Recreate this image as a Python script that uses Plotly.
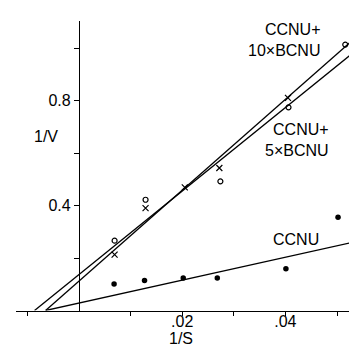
import plotly.graph_objects as go

# ---- data (Lineweaver-Burk plot) ----
ccnu_x = [0.0068, 0.0127, 0.0202, 0.0268, 0.0401, 0.0502]
ccnu_y = [0.101, 0.114, 0.124, 0.124, 0.159, 0.355]

bcnu10_x = [0.0069, 0.0129, 0.0274, 0.0406, 0.0516]   # open circles
bcnu10_y = [0.266, 0.422, 0.492, 0.774, 1.013]

bcnu5_x = [0.0069, 0.0129, 0.0205, 0.0272, 0.0405]    # crosses
bcnu5_y = [0.213, 0.390, 0.469, 0.543, 0.810]

# fitted straight lines: slope, intercept (1/V at 1/S = 0)
fit_names = ["CCNU", "5xBCNU", "10xBCNU"]
fit_slopes = [4.37, 15.9, 17.3]
fit_intercepts = [0.0282, 0.137, 0.112]
fit_x_end = 0.0552

x_tickvals = [-0.01, 0.01, 0.02, 0.03, 0.04, 0.05]
x_labelvals = [0.02, 0.04]
x_labeltext = [".02", ".04"]
y_tickvals = [0.2, 0.4, 0.6, 0.8, 1.0]
y_ticktext = ["", "0.4", "", "0.8", ""]

W, H = 357, 346
FONT = "Liberation Sans, Arial, sans-serif"

fig = go.Figure()

for s, b in zip(fit_slopes, fit_intercepts):
    x0 = -b / s
    fig.add_trace(go.Scatter(
        x=[x0, fit_x_end], y=[0, b + s * fit_x_end], mode="lines",
        line=dict(color="black", width=1.3), showlegend=False, hoverinfo="skip"))

fig.add_trace(go.Scatter(x=ccnu_x, y=ccnu_y, mode="markers",
                         marker=dict(symbol="circle", size=5.5, color="black"),
                         showlegend=False))
fig.add_trace(go.Scatter(x=bcnu10_x, y=bcnu10_y, mode="markers",
                         marker=dict(symbol="circle-open", size=5, color="black",
                                     line=dict(width=1.2, color="black")),
                         showlegend=False))
fig.add_trace(go.Scatter(x=bcnu5_x, y=bcnu5_y, mode="markers",
                         marker=dict(symbol="x-thin-open", size=6, color="black",
                                     line=dict(width=1.2, color="black")),
                         showlegend=False))
# empty trace so that the label axis is drawn
fig.add_trace(go.Scatter(x=[], y=[], xaxis="x2", yaxis="y", mode="markers",
                         showlegend=False, hoverinfo="skip"))

# pixel geometry of the reference
x0px, xs = 71.0, 5160.0       # px of x=0, px per unit
y0px, ys = 302.5, 262.5       # px of y=0, px per unit
xrange_ = [(8 - x0px) / xs, (355 - x0px) / xs]
xdomain = [8 / W, 355 / W]

fig.update_layout(
    width=W, height=H,
    margin=dict(l=0, r=0, t=0, b=0),
    paper_bgcolor="white", plot_bgcolor="white",
    font=dict(family=FONT, size=16, color="black"),
    xaxis=dict(
        domain=xdomain, range=xrange_,
        anchor="free", position=1 - y0px / H,
        showline=True, linecolor="black", linewidth=1.2,
        showgrid=False, zeroline=False,
        tickmode="array", tickvals=x_tickvals, showticklabels=False,
        ticks="outside", ticklen=4, tickwidth=1, tickcolor="black",
    ),
    xaxis2=dict(
        domain=xdomain, range=xrange_, overlaying="x",
        anchor="free", position=1 - 302 / H,
        showline=False, showgrid=False, zeroline=False,
        tickmode="array", tickvals=x_labelvals, ticktext=x_labeltext,
        ticks="", side="bottom",
        tickfont=dict(family=FONT, size=16, color="black"),
    ),
    yaxis=dict(
        domain=[1 - y0px / H, 1 - 13 / H],
        range=[0, (y0px - 13) / ys],
        anchor="free", position=x0px / W,
        showline=True, linecolor="black", linewidth=1.2,
        showgrid=False, zeroline=False,
        tickmode="array", tickvals=y_tickvals, ticktext=y_ticktext,
        ticks="outside", ticklen=5, tickwidth=1, tickcolor="black",
        tickfont=dict(family=FONT, size=16, color="black"),
    ),
)

def ann(text, px, py, xanchor="center", align="center"):
    fig.add_annotation(text=text, x=px / W, y=1 - py / H, xref="paper", yref="paper",
                       showarrow=False, xanchor=xanchor, yanchor="middle", align=align,
                       font=dict(family=FONT, size=16, color="black"))

ann("1/V", 38, 128)
ann("1/S", 173, 330)
ann("CCNU+<br>10×BCNU", 314, 32, xanchor="right", align="right")
ann("CCNU+<br>5×BCNU", 323, 131.5, xanchor="right", align="right")
ann("CCNU", 288, 231)

fig.write_html("out.html")
